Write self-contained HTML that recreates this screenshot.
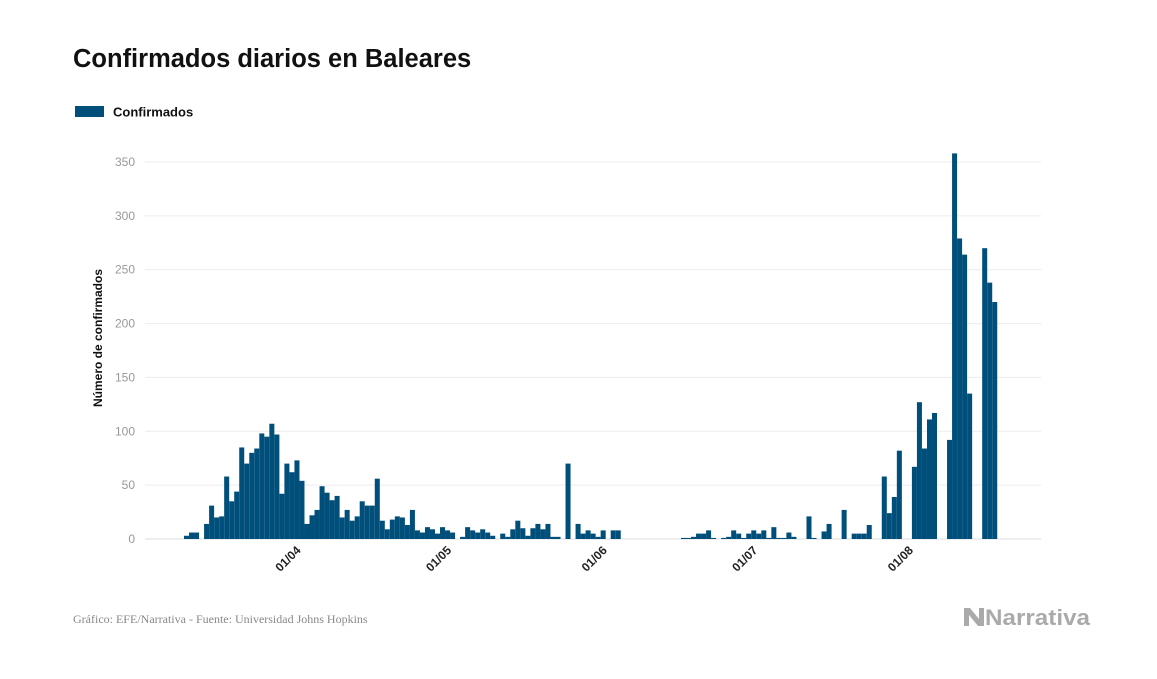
<!DOCTYPE html>
<html><head><meta charset="utf-8"><style>
body{margin:0;background:#fff;width:1157px;height:674px;overflow:hidden;font-family:"Liberation Sans",sans-serif}
</style></head><body>
<svg width="1157" height="674" xmlns="http://www.w3.org/2000/svg">
<text x="73" y="67" font-size="25.5" font-weight="bold" fill="#111">Confirmados diarios en Baleares</text>
<rect x="75" y="106" width="29" height="11" fill="#004f7a"/>
<text x="113" y="116.5" font-size="13" font-weight="bold" fill="#111">Confirmados</text>
<text transform="translate(102,338) rotate(-90)" text-anchor="middle" font-size="12" font-weight="bold" fill="#111">Número de confirmados</text>
<g id="grid"></g><g id="bars"></g><g id="xlabels"></g>
<text x="73" y="623" font-family="Liberation Serif,serif" font-size="12" fill="#888">Gráfico: EFE/Narrativa - Fuente: Universidad Johns Hopkins</text>
<g>
<path d="M964 608 L970 608 L979 619 L979 608 L984 608 L984 626 L978 626 L969 615 L969 626 L964 626 Z" fill="#aaa"/>
<text x="985" y="625" font-size="22" font-weight="bold" fill="#aaa" textLength="105" lengthAdjust="spacingAndGlyphs">Narrativa</text>
</g>
</svg>
<script>
const startDate = "2020-03-09";
const values = [3,6,6,0,14,31,20,21,58,35,44,85,70,80,84,98,95,107,97,42,70,62,73,54,14,22,27,49,43,36,40,20,27,17,21,35,31,31,56,17,9,18,21,20,13,27,8,6,11,9,5,11,8,6,0,2,11,8,6,9,6,3,0,5,2,9,17,10,3,10,14,9,14,2,2,0,70,0,14,5,8,5,2,8,0,8,8,
0,0,0,0,0,0,0,0,0,0,0,0,
1,1,2,5,5,8,1,0,1,2,8,5,1,5,8,5,8,1,11,1,1,6,2,0,0,21,1,0,7,14,0,0,27,0,5,5,5,13,
0,0,
58,24,39,82,0,0,67,127,84,111,117,0,0,92,358,279,264,135,0,0,270,238,220];
const yTicks = [0,50,100,150,200,250,300,350];
const xTickDates = ["2020-04-01","2020-05-01","2020-06-01","2020-07-01","2020-08-01"];
const xTickLabels = ["01/04","01/05","01/06","01/07","01/08"];
const NS="http://www.w3.org/2000/svg";
const x0=184, dx=5.02, left=145, right=1041, y0=539, yPer=(539-162)/350;
const xs=i=>x0+i*dx;
const ys=v=>y0-v*yPer;
const dayIdx=d=>Math.round((new Date(d)-new Date(startDate))/86400000);
const grid=document.getElementById('grid');
yTicks.forEach(t=>{
 const l=document.createElementNS(NS,'line');
 l.setAttribute('x1',left);l.setAttribute('x2',right);l.setAttribute('y1',ys(t));l.setAttribute('y2',ys(t));
 l.setAttribute('stroke',t===0?'#ddd':'#ececec');l.setAttribute('stroke-width','1');
 
 
 grid.appendChild(l);
 const tx=document.createElementNS(NS,'text');
 tx.setAttribute('x',135);tx.setAttribute('y',ys(t)+4);tx.setAttribute('text-anchor','end');
 tx.setAttribute('font-size','12');tx.setAttribute('fill','#999');tx.textContent=t;
 
 
 grid.appendChild(tx);
});
const bars=document.getElementById('bars');
values.forEach((v,i)=>{
 if(v<=0)return;
 const r=document.createElementNS(NS,'rect');
 r.setAttribute('x',xs(i));r.setAttribute('width',dx);
 r.setAttribute('y',ys(v));r.setAttribute('height',v*yPer);
 r.setAttribute('fill','#004f7a');
 
 
 bars.appendChild(r);
});
const xl=document.getElementById('xlabels');
xTickDates.forEach((d,k)=>{
 const x=xs(dayIdx(d))+2;
 const t=document.createElementNS(NS,'text');
 t.setAttribute('transform',`translate(${x},551) rotate(-45)`);
 t.setAttribute('text-anchor','end');t.setAttribute('font-size','12');t.setAttribute('font-weight','bold');t.setAttribute('fill','#222');
 t.textContent=xTickLabels[k];
 
 
 xl.appendChild(t);
});
</script>
</body></html>
